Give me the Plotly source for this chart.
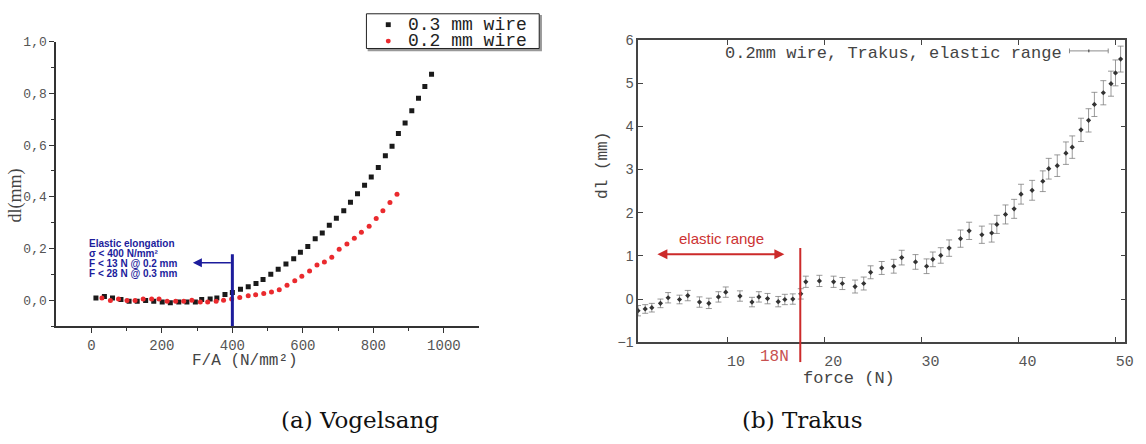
import plotly.graph_objects as go

W, H = 1146, 444


def px(x):
    return x / W


def py(y):
    return 1 - y / H


# ---------------- (a) Vogelsang data ----------------
fa_03 = [13, 37, 60, 84, 107, 130, 154, 177, 201, 224, 248, 271, 295, 313, 337, 356,
         379, 400, 423, 445, 467, 487, 509, 530, 552, 574, 593, 614, 635, 655, 675, 695,
         716, 735, 755, 775, 794, 814, 834, 853, 871, 890, 909, 928, 946, 965]
dl_03 = [0.009, 0.015, 0.009, 0.003, -0.004, -0.004, -0.001, -0.004, -0.007, -0.010,
         -0.007, -0.007, -0.007, 0.003, 0.005, 0.009, 0.022, 0.030, 0.043, 0.052, 0.065,
         0.080, 0.101, 0.120, 0.140, 0.161, 0.186, 0.208, 0.238, 0.260, 0.290, 0.317,
         0.346, 0.379, 0.412, 0.445, 0.477, 0.514, 0.559, 0.596, 0.645, 0.686, 0.733,
         0.781, 0.827, 0.874]

fa_02 = [30, 54, 77, 101, 124, 147, 171, 192, 215, 239, 262, 285, 309, 330, 354, 375,
         398, 421, 445, 466, 489, 511, 533, 555, 577, 597, 619, 640, 661, 682, 703, 725,
         746, 766, 788, 808, 827, 847, 867]
dl_02 = [0.009, -0.001, 0.005, -0.001, -0.001, 0.005, 0.005, 0.005, -0.004, -0.004,
         -0.004, 0.000, -0.007, -0.007, -0.004, 0.000, 0.005, 0.011, 0.017, 0.021, 0.026,
         0.032, 0.041, 0.058, 0.075, 0.093, 0.113, 0.136, 0.148, 0.166, 0.197, 0.218,
         0.240, 0.263, 0.286, 0.316, 0.346, 0.378, 0.410]

left_ytickvals = [0.0, 0.2, 0.4, 0.6, 0.8, 1.0]
left_yticktext = ["0,0", "0,2", "0,4", "0,6", "0,8", "1,0"]
left_yminor = [-0.1, 0.1, 0.3, 0.5, 0.7, 0.9]
left_xtickvals = [0, 200, 400, 600, 800, 1000]
left_xminor = [100, 300, 500, 700, 900]
elastic_stress = 400
elastic_note = ["Elastic elongation", "σ < 400 N/mm²", "F < 13 N @ 0.2 mm", "F < 28 N @ 0.3 mm"]

# ---------------- (b) Trakus data ----------------
force = [0.83, 1.57, 2.25, 3.14, 3.93, 5.10, 5.95, 7.16, 8.12, 9.11, 9.86, 11.32, 12.56,
         13.27, 14.16, 15.26, 15.94, 16.76, 17.58, 18.10, 19.50, 20.96, 21.86, 23.17,
         24.06, 24.77, 25.91, 27.15, 27.97, 29.39, 30.53, 31.17, 31.99, 32.85, 34.02,
         34.91, 36.22, 37.23, 37.76, 38.65, 39.54, 40.25, 41.39, 42.49, 43.10, 43.98,
         44.87, 45.52, 46.42, 47.20, 47.80, 48.72, 49.51, 49.97, 50.50]
dl_trakus = [-0.27, -0.23, -0.20, -0.10, 0.03, -0.01, 0.08, -0.07, -0.10, 0.05, 0.16,
             0.07, -0.07, 0.05, 0.01, -0.06, -0.01, 0.00, 0.12, 0.40, 0.42, 0.40, 0.36,
             0.29, 0.36, 0.62, 0.72, 0.76, 0.96, 0.86, 0.76, 0.92, 1.01, 1.18, 1.40, 1.58,
             1.49, 1.53, 1.73, 1.96, 2.09, 2.43, 2.52, 2.73, 3.02, 3.09, 3.38, 3.52, 3.92,
             4.14, 4.51, 4.78, 4.99, 5.24, 5.56]
dl_err = [0.12, 0.10, 0.10, 0.10, 0.12, 0.10, 0.12, 0.12, 0.12, 0.12, 0.12, 0.12, 0.11,
          0.12, 0.12, 0.12, 0.12, 0.12, 0.12, 0.13, 0.13, 0.13, 0.14, 0.15, 0.15, 0.15,
          0.15, 0.16, 0.17, 0.17, 0.17, 0.17, 0.18, 0.19, 0.20, 0.20, 0.20, 0.21, 0.21,
          0.22, 0.22, 0.23, 0.23, 0.24, 0.24, 0.25, 0.26, 0.26, 0.27, 0.27, 0.28, 0.28,
          0.29, 0.30, 0.30]
right_xtickvals = [10, 20, 30, 40, 50]
right_ytickvals = [-1, 0, 1, 2, 3, 4, 5, 6]
elastic_force = 17.53
elastic_range = [2.82, 16.05]

MONO = "Liberation Mono, Courier New, monospace"
SANS = "Liberation Sans, Arial, sans-serif"
BLUE = "#1c1c9c"
RED = "#cc2a2a"

fig = go.Figure()

fig.add_trace(go.Scatter(x=fa_03, y=dl_03, mode="markers", name="0.3 mm wire",
                         marker=dict(symbol="square", size=5, color="#1a1a1a"),
                         xaxis="x", yaxis="y", showlegend=False))
fig.add_trace(go.Scatter(x=fa_02, y=dl_02, mode="markers", name="0.2 mm wire",
                         marker=dict(symbol="circle", size=5, color="#ea2a2e"),
                         xaxis="x", yaxis="y", showlegend=False))
fig.add_trace(go.Scatter(x=force, y=dl_trakus, mode="markers",
                         name="0.2mm wire, Trakus, elastic range",
                         error_y=dict(type="data", array=dl_err, color="rgba(120,120,120,0.75)",
                                      thickness=1, width=3),
                         marker=dict(symbol="diamond", size=4, color="#333333"),
                         xaxis="x2", yaxis="y2", showlegend=False))

axis_common = dict(showgrid=False, zeroline=False, showline=True)

fig.update_layout(
    width=W, height=H, margin=dict(l=0, r=0, t=0, b=0),
    paper_bgcolor="white", plot_bgcolor="white",
    xaxis=dict(**axis_common, domain=[px(56.5), px(482.5)], range=[-100, 1100], anchor="y",
               linecolor="#333", linewidth=1.5, ticks="outside", ticklen=5, tickwidth=1.2,
               tickcolor="#333", tickmode="array", tickvals=left_xtickvals,
               tickfont=dict(family=MONO, size=14, color="#555"),
               minor=dict(tickmode="array", tickvals=left_xminor, ticks="outside",
                          ticklen=3, tickcolor="#333", tickwidth=1.2)),
    yaxis=dict(**axis_common, domain=[py(330), py(35)], range=[-0.1, 1.0], anchor="x",
               linecolor="#333", linewidth=1.5, ticks="outside", ticklen=5, tickwidth=1.2,
               tickcolor="#333", tickmode="array", tickvals=left_ytickvals,
               ticktext=left_yticktext, tickfont=dict(family=MONO, size=13, color="#555"),
               minor=dict(tickmode="array", tickvals=left_yminor, ticks="outside",
                          ticklen=3, tickcolor="#333", tickwidth=1.2)),
    xaxis2=dict(**axis_common, domain=[px(642.5), px(1133.4)], range=[0.83, 51.0],
                anchor="y2", mirror="allticks", linecolor="#444", linewidth=1.5,
                ticks="inside", ticklen=5, tickwidth=1.2, tickcolor="#444",
                tickmode="array", tickvals=right_xtickvals,
                tickfont=dict(family=MONO, size=15, color="#555"),
                ticklabelshift=9, ticklabelstandoff=4),
    yaxis2=dict(**axis_common, domain=[py(346.7), py(33.3)], range=[-1, 6], anchor="x2",
                mirror="allticks", linecolor="#444", linewidth=1.5, ticks="inside",
                ticklen=5, tickwidth=1.2, tickcolor="#444", tickmode="array",
                tickvals=right_ytickvals, tickfont=dict(family=SANS, size=14, color="#555")),
)

shapes = []
annotations = []

# ---- (a) annotations ----
shapes.append(dict(type="line", xref="x", yref="y", x0=elastic_stress, x1=elastic_stress,
                   y0=-0.1, y1=0.178, line=dict(color=BLUE, width=3)))
annotations.append(dict(xref="x", yref="y", axref="x", ayref="y", x=288, y=0.145,
                        ax=elastic_stress, ay=0.145, text="", showarrow=True, arrowhead=2,
                        arrowsize=1.2, arrowwidth=1.5, arrowcolor=BLUE))
for i, line in enumerate(elastic_note):
    annotations.append(dict(xref="paper", yref="paper", x=px(88), y=py(244.3 + 10.5 * i),
                            xanchor="left", yanchor="middle", showarrow=False,
                            text="<b>" + line + "</b>",
                            font=dict(family=SANS, size=10, color=BLUE)))

# legend box (a)
shapes.append(dict(type="rect", xref="paper", yref="paper", x0=px(371), x1=px(545),
                   y0=py(44), y1=py(8), line=dict(color="#999", width=1.5),
                   fillcolor="#999", layer="above"))
shapes.append(dict(type="rect", xref="paper", yref="paper", x0=px(369), x1=px(543),
                   y0=py(42), y1=py(6), line=dict(color="#222", width=1),
                   fillcolor="white", layer="above"))
shapes.append(dict(type="rect", xref="paper", yref="paper", x0=px(388.5), x1=px(393.5),
                   y0=py(19.8), y1=py(14.8), line=dict(width=0), fillcolor="#1a1a1a",
                   layer="above"))
shapes.append(dict(type="circle", xref="paper", yref="paper", x0=px(388.5), x1=px(393.5),
                   y0=py(36.8), y1=py(31.8), line=dict(width=0), fillcolor="#ea2a2e",
                   layer="above"))
for name, yy in [("0.3 mm wire", 17.3), ("0.2 mm wire", 34.3)]:
    annotations.append(dict(xref="paper", yref="paper", x=px(409), y=py(yy), xanchor="left",
                            yanchor="middle", showarrow=False, text=name,
                            font=dict(family=MONO, size=18, color="#222")))

# axis titles (a)
annotations.append(dict(xref="paper", yref="paper", x=px(246.7), y=py(366), showarrow=False,
                        text="F/A (N/mm²)", xanchor="center", yanchor="middle",
                        font=dict(family=MONO, size=16, color="#444")))
annotations.append(dict(xref="paper", yref="paper", x=px(16), y=py(194.5), showarrow=False,
                        text="dl(mm)", textangle=-90, xanchor="center", yanchor="middle",
                        font=dict(family="Liberation Serif, serif", size=18, color="#444")))

# ---- (b) annotations ----
shapes.append(dict(type="line", xref="x2", yref="paper", x0=elastic_force, x1=elastic_force,
                   y0=py(367.3), y1=py(249), line=dict(color=RED, width=2)))
annotations.append(dict(xref="x2", yref="y2", axref="x2", ayref="y2", x=elastic_range[0],
                        y=1.04, ax=elastic_range[1], ay=1.04, text="", showarrow=True,
                        arrowhead=2, arrowside="end+start", arrowsize=1, arrowwidth=2,
                        arrowcolor=RED))
annotations.append(dict(xref="x2", yref="y2", x=9.38, y=1.4, showarrow=False,
                        text="elastic range", font=dict(family=SANS, size=15, color="#cc3333")))
annotations.append(dict(xref="x2", yref="paper", x=14.9, y=py(361.7), showarrow=False,
                        text="18N", yanchor="middle",
                        font=dict(family=MONO, size=16, color="#c85050")))
annotations.append(dict(xref="paper", yref="paper", x=px(903), y=py(384), showarrow=False,
                        text="force (N)", yanchor="middle",
                        font=dict(family=MONO, size=17, color="#444")))
annotations.append(dict(xref="paper", yref="paper", x=px(607), y=py(163), showarrow=False,
                        text="dl (mm)", textangle=-90, xanchor="center", yanchor="middle",
                        font=dict(family=MONO, size=16, color="#444")))
# legend (b)
annotations.append(dict(xref="paper", yref="paper", x=px(1071), y=py(47.5), showarrow=False,
                        text="0.2mm wire, Trakus, elastic range", xanchor="right",
                        yanchor="middle", font=dict(family=MONO, size=17, color="#444")))
LG = "rgba(120,120,120,0.85)"
shapes.append(dict(type="line", xref="paper", yref="paper", x0=px(1077), x1=px(1116),
                   y0=py(44.5), y1=py(44.5), line=dict(color=LG, width=1)))
for xx in (1077, 1116):
    shapes.append(dict(type="line", xref="paper", yref="paper", x0=px(xx), x1=px(xx),
                       y0=py(42), y1=py(47), line=dict(color=LG, width=1)))
shapes.append(dict(type="line", xref="paper", yref="paper", x0=px(1096.5), x1=px(1096.5),
                   y0=py(43), y1=py(46), line=dict(color="#333", width=1)))

# captions
annotations.append(dict(xref="paper", yref="paper", x=px(281), y=py(427.5), showarrow=False,
                        text="(a) Vogelsang", yanchor="middle",
                        font=dict(family="DejaVu Serif, serif", size=23, color="#111")))
annotations.append(dict(xref="paper", yref="paper", x=px(870.7), y=py(427.5), showarrow=False,
                        text="(b) Trakus", yanchor="middle",
                        font=dict(family="DejaVu Serif, serif", size=23, color="#111")))

fig.update_layout(shapes=shapes, annotations=annotations)

fig.write_html("out.html", config={"displayModeBar": False},
               post_script="document.body.style.margin='0';")
